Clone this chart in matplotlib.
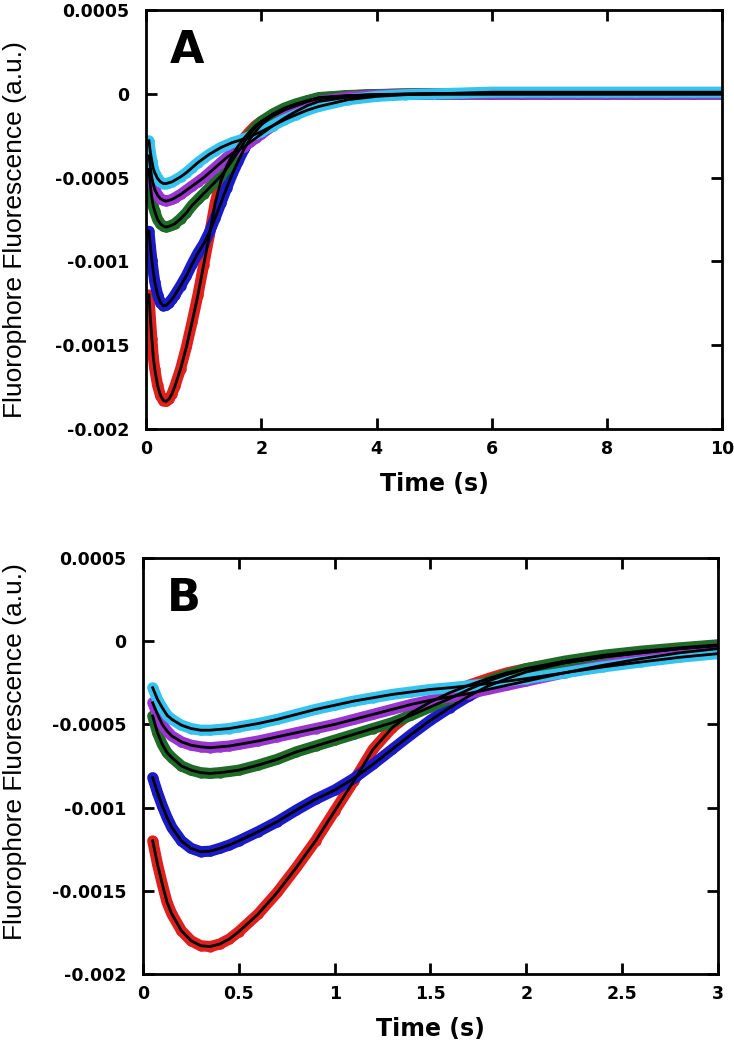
import numpy as np
import matplotlib
matplotlib.use("Agg")
import matplotlib.pyplot as plt

# time points (s) and traces, fluorescence in units of 1e-3 a.u.
time = [0.05, 0.075, 0.1, 0.125, 0.15, 0.2, 0.25, 0.3, 0.35, 0.4, 0.45, 0.5,
        0.6, 0.7, 0.8, 0.9, 1.0, 1.1, 1.2, 1.3, 1.4, 1.5, 1.6, 1.7, 1.8, 1.9,
        2.0, 2.2, 2.4, 2.6, 2.8, 3.0, 3.5, 4.0, 4.5, 5.0, 5.5, 6.0, 6.5, 7.0,
        7.5, 8.0, 8.5, 9.0, 9.5, 10.0]

red = [-1.20, -1.34, -1.46, -1.57, -1.64, -1.74, -1.80, -1.83, -1.835, -1.82, -1.79, -1.745,
       -1.64, -1.51, -1.36, -1.20, -1.02, -0.84, -0.65, -0.52, -0.43, -0.365, -0.31, -0.265, -0.225, -0.19,
       -0.165, -0.13, -0.095, -0.07, -0.045, -0.025, -0.012, -0.005, -0.002, 0.0, 0.0, 0.0, 0.0, 0.0,
       0.0, 0.0, 0.0, 0.0, 0.0, 0.0]
blue = [-0.82, -0.91, -0.99, -1.06, -1.12, -1.20, -1.245, -1.265, -1.262, -1.245, -1.225, -1.20,
        -1.145, -1.085, -1.015, -0.95, -0.895, -0.825, -0.74, -0.65, -0.56, -0.475, -0.40, -0.33, -0.27, -0.225,
        -0.185, -0.13, -0.095, -0.07, -0.045, -0.028, -0.013, -0.005, -0.002, 0.0, 0.0, 0.0, 0.0, 0.0,
        0.0, 0.0, 0.0, 0.0, 0.0, 0.0]
green = [-0.45, -0.55, -0.62, -0.67, -0.70, -0.75, -0.775, -0.79, -0.795, -0.79, -0.783, -0.775,
         -0.745, -0.71, -0.665, -0.63, -0.595, -0.56, -0.525, -0.49, -0.445, -0.395, -0.345, -0.29, -0.24, -0.20,
         -0.165, -0.12, -0.085, -0.06, -0.04, -0.022, -0.01, -0.004, -0.001, 0.0, 0.0, 0.0, 0.0, 0.0,
         0.0, 0.0, 0.0, 0.0, 0.0, 0.0]
purple = [-0.37, -0.44, -0.50, -0.54, -0.57, -0.605, -0.625, -0.635, -0.64, -0.635, -0.63, -0.62,
          -0.60, -0.575, -0.55, -0.525, -0.50, -0.47, -0.44, -0.41, -0.38, -0.355, -0.335, -0.315, -0.29, -0.265,
          -0.24, -0.19, -0.145, -0.105, -0.07, -0.045, -0.02, -0.008, -0.003, 0.0, 0.0, 0.0, 0.0, 0.0,
          0.0, 0.0, 0.0, 0.0, 0.0, 0.0]
cyan = [-0.28, -0.35, -0.40, -0.445, -0.47, -0.505, -0.525, -0.535, -0.535, -0.53, -0.525, -0.515,
        -0.495, -0.47, -0.44, -0.41, -0.385, -0.36, -0.34, -0.32, -0.305, -0.29, -0.28, -0.268, -0.255, -0.24,
        -0.225, -0.19, -0.155, -0.125, -0.097, -0.075, -0.035, -0.015, -0.005, 0.0, 0.005, 0.01, 0.01, 0.01,
        0.01, 0.01, 0.01, 0.01, 0.01, 0.01]

traces = [red, blue, green, purple, cyan]
colors = ["#e0201c", "#1a1ac8", "#1f6b28", "#9a35d0", "#35c3f0"]

yticks = [0.0005, 0, -0.0005, -0.001, -0.0015, -0.002]
ytick_labels = ["0.0005", "0", "-0.0005", "-0.001", "-0.0015", "-0.002"]
xticks_a = [0, 2, 4, 6, 8, 10]
xticks_b = [0, 0.5, 1, 1.5, 2, 2.5, 3]
xtick_labels_b = ["0", "0.5", "1", "1.5", "2", "2.5", "3"]

scale = 1e-3
t = np.array(time)

fig = plt.figure(figsize=(7.34, 10.49), dpi=100)
ax_a = fig.add_axes([0.199, 0.591, 0.785, 0.3994])
ax_b = fig.add_axes([0.195, 0.0715, 0.783, 0.3966])

tick_font = {"family": "DejaVu Sans", "weight": "bold", "size": 12.5}

for ax, xmax, xticks, xlabels, letter, ylab_x, ylab_y in [
        (ax_a, 10, xticks_a, [str(v) for v in xticks_a], "A", -0.207, 0.477),
        (ax_b, 3, xticks_b, xtick_labels_b, "B", -0.202, 0.534)]:
    for vals, c in zip(traces, colors):
        y = np.array(vals) * scale
        ax.plot(t, y, color=c, lw=8, solid_capstyle="round", zorder=2)
        ax.plot(t, y, "o", color=c, ms=7.5, mew=0, zorder=2)
    for vals in traces:
        ax.plot(t, np.array(vals) * scale, color="black", lw=2, zorder=3)

    ax.set_xlim(0, xmax)
    ax.set_ylim(-0.002, 0.0005)
    ax.set_xticks(xticks)
    ax.set_xticklabels(xlabels, fontdict=tick_font)
    ax.set_yticks(yticks)
    ax.set_yticklabels(ytick_labels, fontdict=tick_font)
    ax.tick_params(direction="in", length=8, width=2, top=True, right=True)
    ax.tick_params(axis="y", pad=12)
    ax.tick_params(axis="x", pad=8)
    for s in ax.spines.values():
        s.set_linewidth(2)

    ax.set_xlabel("Time (s)", family="DejaVu Sans", weight="bold", size=17, labelpad=10)
    ax.set_ylabel("Fluorophore Fluorescence (a.u.)", family="Liberation Sans", size=19)
    ax.yaxis.set_label_coords(ylab_x, ylab_y)
    ax.text(0.042, 0.955, letter, transform=ax.transAxes, ha="left", va="top",
            family="DejaVu Sans", weight="bold", size=32)

fig.savefig("out.png", dpi=100, facecolor="white")
